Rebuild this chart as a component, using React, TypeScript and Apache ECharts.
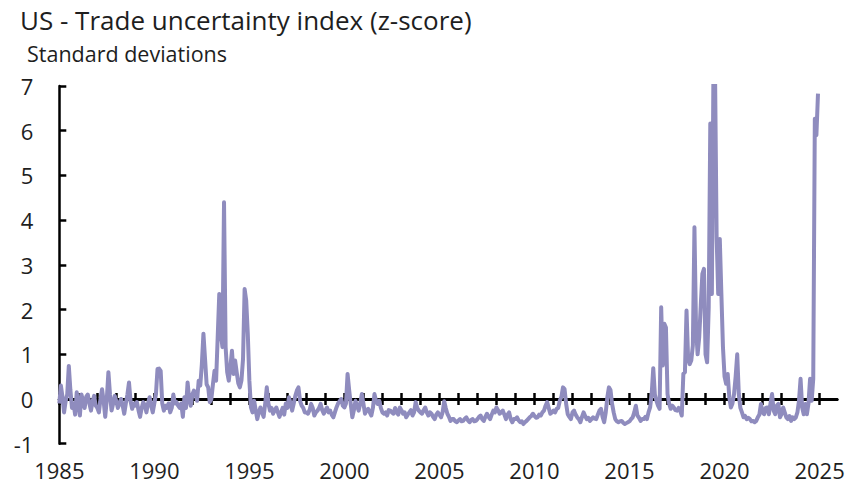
import React, { useEffect, useRef } from 'react';
import * as echarts from 'echarts';

const titleText = 'US - Trade uncertainty index (z-score)';
const subtitleText = 'Standard deviations';
const startYear = 1985;
const lastCategoryIndex = 491; // Dec 2025 (axis end)
const yearTicks = [1985, 1986, 1987, 1988, 1989, 1990, 1991, 1992, 1993, 1994, 1995, 1996, 1997, 1998, 1999, 2000, 2001, 2002, 2003, 2004, 2005, 2006, 2007, 2008, 2009, 2010, 2011, 2012, 2013, 2014, 2015, 2016, 2017, 2018, 2019, 2020, 2021, 2022, 2023, 2024, 2025];
const yearLabels = [1985, 1990, 1995, 2000, 2005, 2010, 2015, 2020, 2025];

// Monthly z-scores, one row per year (Jan..Dec)
const v1985_1989 = [
  -0.1, 0.3, 0.05, -0.3, -0.05, 0.1, 0.74, 0.2, -0.2, -0.1, -0.35, 0.15,
  -0.1, -0.37, 0.1, -0.05, -0.2, 0.05, 0.1, -0.1, -0.26, -0.05, 0.07, -0.15,
  -0.2, -0.3, 0.0, 0.22, -0.05, -0.4, 0.0, 0.6, 0.1, -0.26, -0.1, 0.07,
  -0.05, -0.2, -0.1, 0.0, -0.15, -0.33, -0.1, 0.1, 0.37, -0.05, -0.22, -0.1,
  -0.15, -0.07, -0.25, -0.4, -0.2, -0.07, -0.15, -0.3, -0.1, 0.04, -0.15, -0.3,
];
const v1990_1994 = [
  -0.1, 0.1, 0.67, 0.68, 0.63, -0.1, -0.26, -0.15, -0.2, -0.1, -0.3, -0.2,
  0.1, -0.1, -0.07, -0.15, -0.2, -0.1, -0.4, 0.04, -0.2, 0.37, 0.0, -0.15,
  0.1, 0.19, 0.1, -0.04, 0.41, 0.3, 0.78, 1.46, 0.9, 0.33, 0.26, -0.07,
  0.0, 0.33, 0.63, 0.41, 1.38, 2.35, 1.46, 1.16, 4.4, 1.16, 0.6, 0.41,
  0.71, 1.08, 0.56, 0.86, 0.6, 0.35, 0.26, 0.41, 0.9, 2.46, 2.2, 1.46,
];
const v1995_1999 = [
  0.41, -0.19, -0.3, -0.04, -0.25, -0.45, -0.3, -0.19, -0.3, -0.4, -0.1, 0.26,
  -0.1, -0.26, -0.2, -0.33, -0.25, -0.19, -0.3, -0.4, -0.3, -0.2, -0.35, -0.1,
  -0.2, 0.04, -0.1, -0.26, -0.1, 0.07, 0.19, 0.26, -0.04, -0.15, -0.2, -0.3,
  -0.3, -0.33, -0.25, -0.11, -0.2, -0.37, -0.3, -0.26, -0.2, -0.11, -0.25, -0.33,
  -0.25, -0.19, -0.3, -0.26, -0.35, -0.41, -0.3, -0.19, -0.1, -0.05, 0.0, -0.15,
];
const v2000_2004 = [
  -0.19, -0.1, 0.56, 0.2, -0.11, -0.41, -0.25, -0.04, -0.15, -0.26, -0.1, 0.11,
  -0.1, -0.33, -0.25, -0.22, -0.3, -0.37, -0.2, 0.11, -0.05, -0.11, -0.04, -0.2,
  -0.3, -0.33, -0.3, -0.37, -0.25, -0.26, -0.3, -0.33, -0.2, -0.3, -0.35, -0.19,
  -0.25, -0.33, -0.3, -0.41, -0.35, -0.3, -0.25, -0.37, -0.3, -0.07, -0.2, -0.26,
  -0.3, -0.33, -0.25, -0.19, -0.3, -0.37, -0.3, -0.33, -0.4, -0.45, -0.35, -0.3,
];
const v2005_2009 = [
  -0.35, -0.41, -0.3, -0.05, -0.2, -0.33, -0.4, -0.49, -0.45, -0.45, -0.5, -0.52,
  -0.48, -0.45, -0.5, -0.49, -0.44, -0.41, -0.48, -0.52, -0.47, -0.45, -0.5, -0.49,
  -0.45, -0.4, -0.37, -0.45, -0.49, -0.4, -0.33, -0.4, -0.45, -0.35, -0.26, -0.3,
  -0.19, -0.25, -0.33, -0.3, -0.26, -0.35, -0.45, -0.35, -0.3, -0.45, -0.52, -0.45,
  -0.45, -0.41, -0.48, -0.52, -0.5, -0.56, -0.52, -0.49, -0.45, -0.41, -0.38, -0.33,
];
const v2010_2014 = [
  -0.38, -0.42, -0.41, -0.35, -0.37, -0.3, -0.26, -0.15, -0.07, -0.2, -0.33, -0.3,
  -0.26, -0.3, -0.22, -0.2, -0.04, 0.05, 0.26, 0.22, -0.11, -0.34, -0.4, -0.45,
  -0.3, -0.26, -0.35, -0.41, -0.45, -0.52, -0.4, -0.3, -0.38, -0.45, -0.42, -0.49,
  -0.45, -0.41, -0.44, -0.45, -0.35, -0.26, -0.22, -0.4, -0.52, -0.3, 0.04, 0.26,
  0.2, -0.11, -0.3, -0.45, -0.5, -0.52, -0.5, -0.49, -0.53, -0.56, -0.54, -0.52,
];
const v2015_2019 = [
  -0.5, -0.45, -0.41, -0.3, -0.15, -0.37, -0.42, -0.49, -0.45, -0.45, -0.4, -0.45,
  -0.3, -0.19, 0.11, 0.69, 0.1, -0.04, -0.15, -0.22, 2.05, 0.75, 1.68, 1.6,
  0.11, -0.1, -0.22, -0.15, -0.19, -0.25, -0.26, -0.2, -0.26, -0.37, 0.56, 0.6,
  1.98, 0.9, 0.78, 0.86, 1.2, 3.84, 1.6, 1.0, 1.38, 2.1, 2.8, 2.91,
  1.0, 0.82, 2.05, 6.16, 2.35, 7.4, 7.3, 3.62, 2.35, 3.58, 2.35, 1.16,
];
const v2020_2024 = [
  0.5, 0.34, 0.56, 0.04, -0.19, -0.1, 0.11, 0.5, 1.0, 0.11, -0.2, -0.3,
  -0.41, -0.38, -0.45, -0.42, -0.45, -0.5, -0.49, -0.52, -0.49, -0.41, -0.35, -0.11,
  -0.3, -0.34, -0.2, -0.19, -0.34, -0.1, 0.11, -0.26, -0.34, -0.15, -0.11, -0.41,
  -0.34, -0.19, -0.3, -0.41, -0.45, -0.38, -0.49, -0.41, -0.45, -0.41, -0.3, -0.04,
  0.45, -0.19, -0.34, -0.11, -0.34, -0.1, 0.45, -0.04, 0.45, 6.27, 5.9, 6.83,
];

const allValues = [
  ...v1985_1989,
  ...v1990_1994,
  ...v1995_1999,
  ...v2000_2004,
  ...v2005_2009,
  ...v2010_2014,
  ...v2015_2019,
  ...v2020_2024,
];

const FONT = 'Open Sans';
const TEXT = '#1e1e1e';
const LINE = '#8f8cbe';

export default function App() {
  const ref = useRef<HTMLDivElement>(null);
  useEffect(() => {
    const chart = echarts.init(ref.current!, null, { renderer: 'svg' });
    const data = allValues.map((v, i) => [i, v]);
    const tickIdx = yearTicks.map((y) => (y - startYear) * 12);
    const labelIdx = yearLabels.map((y) => (y - startYear) * 12);
    const baseX = {
      type: 'value',
      gridIndex: 0,
      min: 0,
      max: lastCategoryIndex,
      interval: 12,
      splitLine: { show: false },
    };
    chart.setOption({
      animation: false,
      backgroundColor: '#ffffff',
      title: [
        {
          text: titleText,
          left: 15,
          top: 2,
          textStyle: { fontFamily: FONT, fontSize: 26, fontWeight: 'normal', color: TEXT },
        },
        {
          text: subtitleText,
          left: 22,
          top: 37,
          textStyle: { fontFamily: FONT, fontSize: 21.5, fontWeight: 'normal', color: TEXT },
        },
      ],
      grid: { left: 59.3, right: 19, top: 86, bottom: 41.3, containLabel: false },
      xAxis: [
        {
          ...baseX,
          position: 'bottom',
          axisLine: { show: true, onZero: true, onZeroAxisIndex: 0, lineStyle: { color: '#000', width: 3 } },
          axisTick: { show: true, inside: false, length: 6, customValues: tickIdx, lineStyle: { color: '#000', width: 2.5 } },
          axisLabel: { show: false },
        },
        {
          ...baseX,
          position: 'top',
          axisLine: { show: true, onZero: true, onZeroAxisIndex: 0, lineStyle: { color: '#000', width: 3 } },
          axisTick: { show: true, inside: false, length: 6, customValues: tickIdx, lineStyle: { color: '#000', width: 2.5 } },
          axisLabel: { show: false },
        },
        {
          ...baseX,
          position: 'bottom',
          offset: 0,
          axisLine: { show: false, onZero: false },
          axisTick: { show: false },
          axisLabel: {
            show: true,
            customValues: labelIdx,
            formatter: (v: number) => String(startYear + Math.round(v / 12)),
            fontFamily: FONT,
            fontSize: 22,
            color: TEXT,
            margin: 15,
          },
        },
      ],
      yAxis: {
        type: 'value',
        min: -1,
        max: 7,
        interval: 1,
        splitLine: { show: false },
        axisLine: { show: true, onZero: false, lineStyle: { color: '#000', width: 2.5 } },
        axisTick: { show: true, inside: true, length: 7, lineStyle: { color: '#000', width: 2.5 } },
        axisLabel: { fontFamily: FONT, fontSize: 22, color: TEXT, margin: 26 },
      },
      series: [
        {
          type: 'line',
          xAxisIndex: 0,
          yAxisIndex: 0,
          data,
          showSymbol: false,
          symbol: 'none',
          clip: true,
          lineStyle: { color: LINE, width: 4, join: 'round' },
          z: 5,
        },
      ],
    });
    return () => chart.dispose();
  }, []);
  return <div ref={ref} style={{ position: 'fixed', left: 0, top: 0, width: 856, height: 485 }} />;
}
